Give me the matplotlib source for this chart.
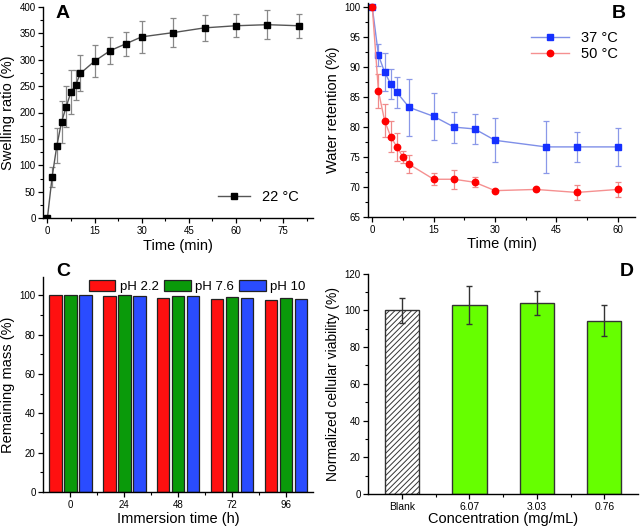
import matplotlib
matplotlib.use("Agg")
import matplotlib.pyplot as plt
import numpy as np
from matplotlib.lines import Line2D
from matplotlib.ticker import MultipleLocator, FixedLocator

plt.rcParams['font.family'] = ['Liberation Sans', 'DejaVu Sans']
plt.rcParams['hatch.color'] = '#707070'
plt.rcParams['hatch.linewidth'] = 0.7

# A: swelling
time_a = [0, 1.5, 3, 4.5, 6, 7.5, 9, 10.5, 15, 20, 25, 30, 40, 50, 60, 70, 80]
swell = [0, 78, 137, 182, 211, 239, 252, 274, 297, 317, 330, 343, 351, 360, 364, 366, 364]
swell_err = [0, 19, 33, 40, 39, 42, 29, 34, 30, 25, 23, 30, 28, 25, 22, 28, 23]

# B: water retention
time_37 = [0, 1.5, 3, 4.5, 6, 9, 15, 20, 25, 30, 42.4, 50, 60]
ret_37 = [100, 92.0, 89.2, 87.2, 85.8, 83.3, 81.8, 80.0, 79.7, 77.8, 76.7, 76.7, 76.7]
err_37 = [0, 1.8, 3.2, 2.5, 2.6, 4.8, 3.9, 2.6, 2.5, 3.7, 4.3, 2.55, 3.2]
time_50 = [0, 1.5, 3, 4.5, 6, 7.5, 9, 15, 20, 25, 30, 40, 50, 60]
ret_50 = [100, 86.0, 81.1, 78.4, 76.7, 75.0, 73.8, 71.3, 71.3, 70.8, 69.4, 69.6, 69.1, 69.6]
err_50 = [0, 2.8, 2.8, 2.6, 2.3, 1.0, 1.5, 1.0, 1.6, 0.8, 0.1, 0.2, 1.2, 1.2]

# C: remaining mass
immersion = ['0', '24', '48', '72', '96']
mass_22 = [100, 99.8, 98.8, 98.3, 97.6]
mass_76 = [100, 100, 99.7, 99.2, 98.6]
mass_10 = [100, 99.9, 99.6, 98.8, 98.1]

# D: cell viability
conc = ['Blank', '6.07', '3.03', '0.76']
viab = [100, 103, 104, 94.5]
viab_err = [6.8, 10.2, 6.6, 8.3]

W, H = 640, 528
fig = plt.figure(figsize=(6.4, 5.28), dpi=100)


def box(l, t, r, b):
    return [l / W, 1 - b / H, (r - l) / W, (b - t) / H]


def style(ax):
    for s in ['top', 'right']:
        ax.spines[s].set_visible(False)
    for s in ['left', 'bottom']:
        ax.spines[s].set_linewidth(1.0)
    ax.tick_params(which='major', direction='out', length=3.5, width=0.9,
                   labelsize=7, pad=2)
    ax.tick_params(which='minor', direction='out', length=2, width=0.8)


LAB = 10.5

# ---- A
ax = fig.add_axes(box(43.3, 6.7, 313, 218.3))
style(ax)
ax.errorbar(time_a, swell, yerr=swell_err, color='#555555', ecolor='#888888',
            elinewidth=0.9, capsize=2, capthick=0.9, lw=1, marker='s',
            ms=4.5, mfc='black', mec='black')
ax.set_xlim(-1.3, 84.5)
ax.set_ylim(0, 400)
ax.xaxis.set_major_locator(MultipleLocator(15))
ax.xaxis.set_minor_locator(MultipleLocator(7.5))
ax.yaxis.set_major_locator(MultipleLocator(50))
ax.yaxis.set_minor_locator(MultipleLocator(25))
ax.set_xlabel('Time (min)', fontsize=LAB, labelpad=2)
ax.set_ylabel('Swelling ratio (%)', fontsize=LAB, labelpad=3)
h_a = [Line2D([], [], color='#555555', lw=1, marker='s', ms=4.5,
              mfc='black', mec='black')]
ax.legend(h_a, ['22 °C'], loc='lower right', frameon=False, fontsize=10.5,
          handlelength=2.2, borderaxespad=0.6)
fig.text(56 / W, 1 - 13 / H, 'A', fontsize=14, fontweight='bold', va='center')

# ---- B
ax = fig.add_axes(box(368.3, 2.7, 635, 217))
style(ax)
ax.errorbar(time_37, ret_37, yerr=err_37, color='#7f8fe8', ecolor='#8a98e8',
            elinewidth=0.9, capsize=2, capthick=0.9, lw=1, marker='s',
            ms=4.2, mfc='#1530ff', mec='#1530ff')
ax.errorbar(time_50, ret_50, yerr=err_50, color='#f59090', ecolor='#f08a8a',
            elinewidth=0.9, capsize=2, capthick=0.9, lw=1, marker='o',
            ms=4.6, mfc='#ff0000', mec='#ff0000')
ax.set_xlim(-0.98, 64.2)
ax.set_ylim(65, 100.77)
ax.xaxis.set_major_locator(MultipleLocator(15))
ax.xaxis.set_minor_locator(MultipleLocator(7.5))
ax.yaxis.set_major_locator(FixedLocator(np.arange(65, 101, 5)))
ax.yaxis.set_minor_locator(FixedLocator(np.arange(67.5, 100, 5)))
ax.set_xlabel('Time (min)', fontsize=LAB, labelpad=2)
ax.set_ylabel('Water retention (%)', fontsize=LAB, labelpad=3)
h_b = [Line2D([], [], color='#7f8fe8', lw=1, marker='s', ms=4.2,
              mfc='#1530ff', mec='#1530ff'),
       Line2D([], [], color='#f59090', lw=1, marker='o', ms=4.6,
              mfc='#ff0000', mec='#ff0000')]
ax.legend(h_b, ['37 °C', '50 °C'], loc='upper right', frameon=False,
          fontsize=10.5, handlelength=2.6, labelspacing=0.15,
          bbox_to_anchor=(0.985, 0.93))
fig.text(612 / W, 1 - 13 / H, 'B', fontsize=14, fontweight='bold', va='center')

# ---- C
ax = fig.add_axes(box(43.3, 276.7, 313, 492))
style(ax)
x = np.arange(len(immersion))
bw = 0.235
off = 0.278
ax.bar(x - off, mass_22, bw, color='#ff1010', edgecolor='#222222', lw=0.9, label='pH 2.2')
ax.bar(x, mass_76, bw, color='#0a9a0a', edgecolor='#222222', lw=0.9, label='pH 7.6')
ax.bar(x + off, mass_10, bw, color='#2a4cff', edgecolor='#222222', lw=0.9, label='pH 10')
ax.set_xlim(-0.5, 4.5)
ax.set_ylim(0, 109.5)
ax.set_xticks(x)
ax.set_xticklabels(immersion)
ax.xaxis.set_minor_locator(FixedLocator(x[:-1] + 0.5))
ax.yaxis.set_major_locator(FixedLocator(np.arange(0, 101, 20)))
ax.yaxis.set_minor_locator(FixedLocator(np.arange(10, 100, 20)))
ax.set_xlabel('Immersion time (h)', fontsize=LAB, labelpad=2)
ax.set_ylabel('Remaining mass (%)', fontsize=LAB, labelpad=3)
ax.legend(loc='lower left', frameon=False, fontsize=9.5, ncol=3,
          handlelength=2.0, handleheight=1.0, columnspacing=0.4, handletextpad=0.35,
          bbox_to_anchor=(0.15, 0.9), borderaxespad=0)
fig.text(56 / W, 1 - 272 / H, 'C', fontsize=14, fontweight='bold', va='center')

# ---- D
ax = fig.add_axes(box(368.3, 273.7, 638, 494))
style(ax)
xd = np.arange(len(conc))
colors = ['white', '#66ff00', '#66ff00', '#66ff00']
bars = ax.bar(xd, viab, 0.51, color=colors, edgecolor='#333333', lw=1.0)
bars[0].set_hatch('//////')
ax.errorbar(xd, viab, yerr=viab_err, fmt='none', ecolor='#333333',
            elinewidth=1, capsize=2.5, capthick=1)
ax.set_xlim(-0.5, 3.5)
ax.set_ylim(0, 120)
ax.set_xticks(xd)
ax.set_xticklabels(conc, fontsize=7.5)
ax.xaxis.set_minor_locator(FixedLocator(xd[:-1] + 0.5))
ax.yaxis.set_major_locator(MultipleLocator(20))
ax.yaxis.set_minor_locator(MultipleLocator(10))
ax.set_xlabel('Concentration (mg/mL)', fontsize=LAB, labelpad=0)
ax.set_ylabel('Normalized cellular viability (%)', fontsize=10, labelpad=3)
fig.text(620 / W, 1 - 272 / H, 'D', fontsize=14, fontweight='bold', va='center')

fig.savefig('out.png', dpi=100)
